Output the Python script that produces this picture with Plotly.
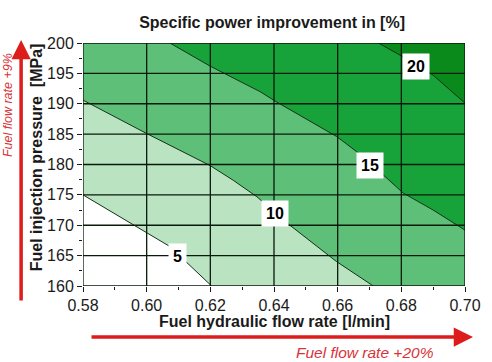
import plotly.graph_objects as go

# ---- data ----
x_ticks = [0.58, 0.60, 0.62, 0.64, 0.66, 0.68, 0.70]
y_ticks = [160, 165, 170, 175, 180, 185, 190, 195, 200]

levels = [5, 10, 15, 20]
# contour lines (flow rate [l/min], pressure [MPa])
c5_x = [0.58, 0.5958, 0.6010, 0.6073, 0.6204]
c5_y = [175.0, 170.0, 168.4, 166.5, 160.0]

c10_x = [0.58, 0.60, 0.62, 0.6272, 0.6346, 0.6450, 0.6597, 0.6712]
c10_y = [190.6, 185.1, 179.8, 177.4, 174.7, 170.0, 164.0, 160.0]

c15_x = [0.6073, 0.6199, 0.6356, 0.6408, 0.6597, 0.6660, 0.6743, 0.6806, 0.6900, 0.70]
c15_y = [200.0, 196.2, 192.0, 190.3, 184.6, 182.1, 178.3, 175.3, 172.5, 169.2]

c20_x = [0.6728, 0.6796, 0.6900, 0.70]
c20_y = [200.0, 198.0, 194.7, 190.1]

label_x = [0.6098, 0.6403, 0.6702, 0.6847]
label_y = [164.8, 172.0, 179.9, 196.2]

x_min, x_max = x_ticks[0], x_ticks[-1]
y_min, y_max = y_ticks[0], y_ticks[-1]

col_light = "#b9e3c1"
col_mid = "#5dbf78"
col_dark = "#17a33a"
col_darkest = "#0b8a1c"
line_col = "#17301a"

fig = go.Figure()

# region 10-15 (above c10)
fig.add_trace(go.Scatter(
    x=c10_x + [x_max, x_max, x_min], y=c10_y + [y_min, y_max, y_max],
    fill="toself", fillcolor=col_mid, mode="lines", line=dict(width=0),
    hoverinfo="skip", showlegend=False))
# region 15-20
fig.add_trace(go.Scatter(
    x=c15_x + [x_max], y=c15_y + [y_max],
    fill="toself", fillcolor=col_dark, mode="lines", line=dict(width=0),
    hoverinfo="skip", showlegend=False))
# region > 20
fig.add_trace(go.Scatter(
    x=c20_x + [x_max], y=c20_y + [y_max],
    fill="toself", fillcolor=col_darkest, mode="lines", line=dict(width=0),
    hoverinfo="skip", showlegend=False))
# region < 5
fig.add_trace(go.Scatter(
    x=c5_x + [x_min], y=c5_y + [y_min],
    fill="toself", fillcolor="white", mode="lines", line=dict(width=0),
    hoverinfo="skip", showlegend=False))

# contour lines
for cx, cy in [(c5_x, c5_y), (c10_x, c10_y), (c15_x, c15_y), (c20_x, c20_y)]:
    fig.add_trace(go.Scatter(x=cx, y=cy, mode="lines",
                             line=dict(color=line_col, width=1),
                             hoverinfo="skip", showlegend=False))

# grid lines drawn above fills
for xv in x_ticks[1:-1]:
    fig.add_shape(type="line", xref="x", yref="y", x0=xv, x1=xv, y0=y_min, y1=y_max,
                  line=dict(color="#0a1a0a", width=1.3), layer="above")
for yv in y_ticks[1:-1]:
    fig.add_shape(type="line", xref="x", yref="y", x0=x_min, x1=x_max, y0=yv, y1=yv,
                  line=dict(color="#0a1a0a", width=1.3), layer="above")
# frame
fig.add_shape(type="rect", xref="x", yref="y", x0=x_min, x1=x_max, y0=y_min, y1=y_max,
              line=dict(color="#0a1a0a", width=1.3), layer="above")

# contour labels
for lx, ly, lv in zip(label_x, label_y, levels):
    fig.add_annotation(x=lx, y=ly, xref="x", yref="y", text=f"<b>{lv}</b>",
                       showarrow=False, bgcolor="white", borderpad=4,
                       font=dict(family="Liberation Sans, Arial", size=16, color="black"))

font_b = dict(family="Liberation Sans, Arial", size=16, color="#1a1a1a")

# axis titles
fig.add_annotation(xref="paper", yref="paper", x=0.5, y=-0.148, xanchor="center", yanchor="middle",
                   text="<b>Fuel hydraulic flow rate [l/min]</b>", showarrow=False, font=font_b)
fig.add_annotation(xref="paper", yref="paper", x=-0.123, y=0.53, xanchor="center", yanchor="middle",
                   text="<b>Fuel injection pressure  [MPa]</b>", textangle=-90,
                   showarrow=False, font=font_b)

# red arrows and notes
red = "#dd1c1c"
fig.add_annotation(xref="paper", yref="paper", x=-0.162, y=1.012, ax=0, ay=262,
                   text="", showarrow=True, arrowhead=2, arrowsize=1.1, arrowwidth=3.5,
                   arrowcolor=red)
fig.add_annotation(xref="paper", yref="paper", x=1.021, y=-0.21, ax=-383, ay=0,
                   text="", showarrow=True, arrowhead=2, arrowsize=1.1, arrowwidth=3.5,
                   arrowcolor=red)
fig.add_annotation(xref="paper", yref="paper", x=-0.196, y=0.745, textangle=-90,
                   xanchor="center", yanchor="middle",
                   text="<i>Fuel flow rate +9%</i>", showarrow=False,
                   font=dict(family="Liberation Sans, Arial", size=12.5, color="#d7343a"))
fig.add_annotation(xref="paper", yref="paper", x=0.738, y=-0.272,
                   xanchor="center", yanchor="middle",
                   text="<i>Fuel flow rate +20%</i>", showarrow=False,
                   font=dict(family="Liberation Sans, Arial", size=15.5, color="#d7343a"))

fig.update_layout(
    width=492, height=362,
    margin=dict(l=83, r=27, t=43, b=76, autoexpand=False),
    paper_bgcolor="white", plot_bgcolor=col_light,
    title=dict(text="<b>Specific power improvement in [%]</b>", x=0.553, xanchor="center",
               y=0.939, yanchor="middle", font=dict(family="Liberation Sans, Arial", size=16, color="#1a1a1a")),
    showlegend=False,
)
fig.update_xaxes(range=[x_min, x_max], tickvals=x_ticks, ticktext=[f"{v:.2f}" for v in x_ticks],
                 showgrid=False, zeroline=False, ticks="outside", ticklen=5, tickcolor="#1a1a1a",
                 tickfont=font_b, automargin=False,
                 minor=dict(dtick=0.01, ticks="outside", ticklen=3, tickcolor="#1a1a1a", showgrid=False))
fig.update_yaxes(range=[y_min, y_max], tickvals=y_ticks, ticktext=[str(v) for v in y_ticks],
                 showgrid=False, zeroline=False, ticks="outside", ticklen=5, tickcolor="#1a1a1a",
                 tickfont=font_b, automargin=False,
                 minor=dict(dtick=2.5, ticks="outside", ticklen=3, tickcolor="#1a1a1a", showgrid=False))

# remove the default 8px page margin so the figure sits at the window origin
fig.write_html("out.html", config={"displayModeBar": False},
               post_script="document.body.style.margin='0';")
